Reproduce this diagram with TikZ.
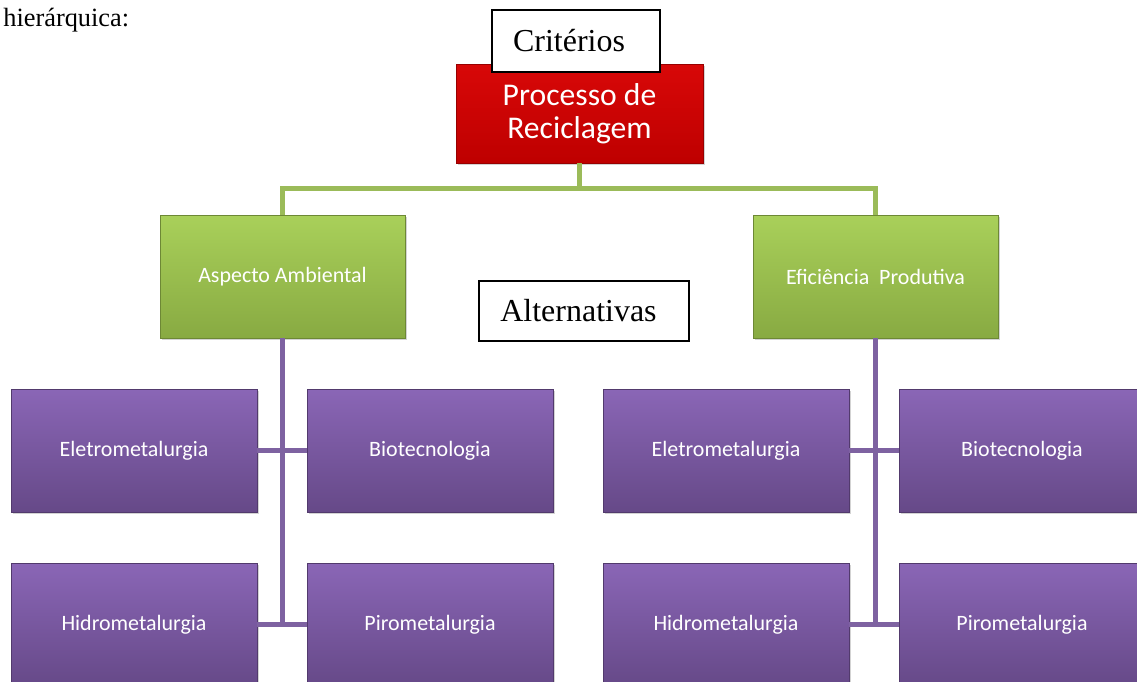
\documentclass[tikz,border=0pt]{standalone}
\usepackage{fontspec}
\setmainfont{Liberation Serif}
\newfontfamily\calib{Carlito}
\usetikzlibrary{shadows}
\definecolor{redtop}{HTML}{D80808}
\definecolor{redbot}{HTML}{BE0000}
\definecolor{greentop}{HTML}{A9D05A}
\definecolor{greenbot}{HTML}{88AA42}
\definecolor{purpletop}{HTML}{8A66B6}
\definecolor{purplebot}{HTML}{664988}
\definecolor{greenline}{HTML}{9BBB59}
\definecolor{purpleline}{HTML}{7E62A1}
\tikzset{
    box/.style={rectangle, text=white, font=\calib, align=center,
        drop shadow={shadow xshift=1.2pt, shadow yshift=-1.2pt, opacity=0.35}},
    redbox/.style={box, top color=redtop, bottom color=redbot, draw=redbot!80!black,
        minimum width=4.94cm, minimum height=1.98cm, font=\calib\fontsize{18}{19}\selectfont},
    greenbox/.style={box, top color=greentop, bottom color=greenbot, draw=greenbot!80!black,
        minimum width=4.9cm, minimum height=2.46cm, font=\calib\fontsize{12.5}{14}\selectfont},
    purplebox/.style={box, top color=purpletop, bottom color=purplebot, draw=purplebot!80!black,
        minimum width=4.92cm, minimum height=2.46cm, font=\calib\fontsize{12.5}{14}\selectfont},
    labelbox/.style={rectangle, draw=black, fill=white, thick, font=\fontsize{18.2}{20}\selectfont},
    gline/.style={greenline, line width=2.8pt},
    pline/.style={purpleline, line width=2.8pt}
}
\begin{document}
\begin{tikzpicture}[x=0.02cm, y=-0.02cm]
    \useasboundingbox (0,0) rectangle (1137,682);
    \clip (0,0) rectangle (1137,682);
    \node[anchor=west, inner sep=0pt, font=\fontsize{15}{17}\selectfont] (intro) at (3,20) {hierárquica:};
    % criterio principal
    \node[redbox] (proc) at (579.5,113.5) {Processo de\\Reciclagem};
    \node[labelbox, minimum width=3.36cm, minimum height=1.24cm] (crit) at (576,41) {Critérios\kern0.28cm};
    % criterios
    \node[greenbox] (amb) at (282.5,276.5) {Aspecto Ambiental};
    \node[greenbox] (efi) at (875.5,276.5) {Eficiência\ \ Produtiva};
    \node[labelbox, minimum width=4.2cm, minimum height=1.2cm] (alt) at (584,311) {Alternativas\kern0.22cm};
    % alternativas
    \foreach \crit/\x in {a/0, e/592}{
        \node[purplebox] (\crit ele) at (134+\x,450.5) {Eletrometalurgia};
        \node[purplebox] (\crit bio) at (430+\x,450.5) {Biotecnologia};
        \node[purplebox] (\crit hid) at (134+\x,624.5) {Hidrometalurgia};
        \node[purplebox] (\crit pir) at (430+\x,624.5) {Pirometalurgia};
    }
    % ligacoes
    \draw[gline] (proc.south) -- ++(0,25) -| (amb.north);
    \draw[gline] (proc.south) -- ++(0,25) -| (efi.north);
    \draw[pline] (amb.south) -- (amb.south |- ahid.east);
    \draw[pline] (efi.south) -- (efi.south |- ehid.east);
    \foreach \crit in {a, e}{
        \draw[pline] (\crit ele.east) -- (\crit bio.west);
        \draw[pline] (\crit hid.east) -- (\crit pir.west);
    }
\end{tikzpicture}
\end{document}
